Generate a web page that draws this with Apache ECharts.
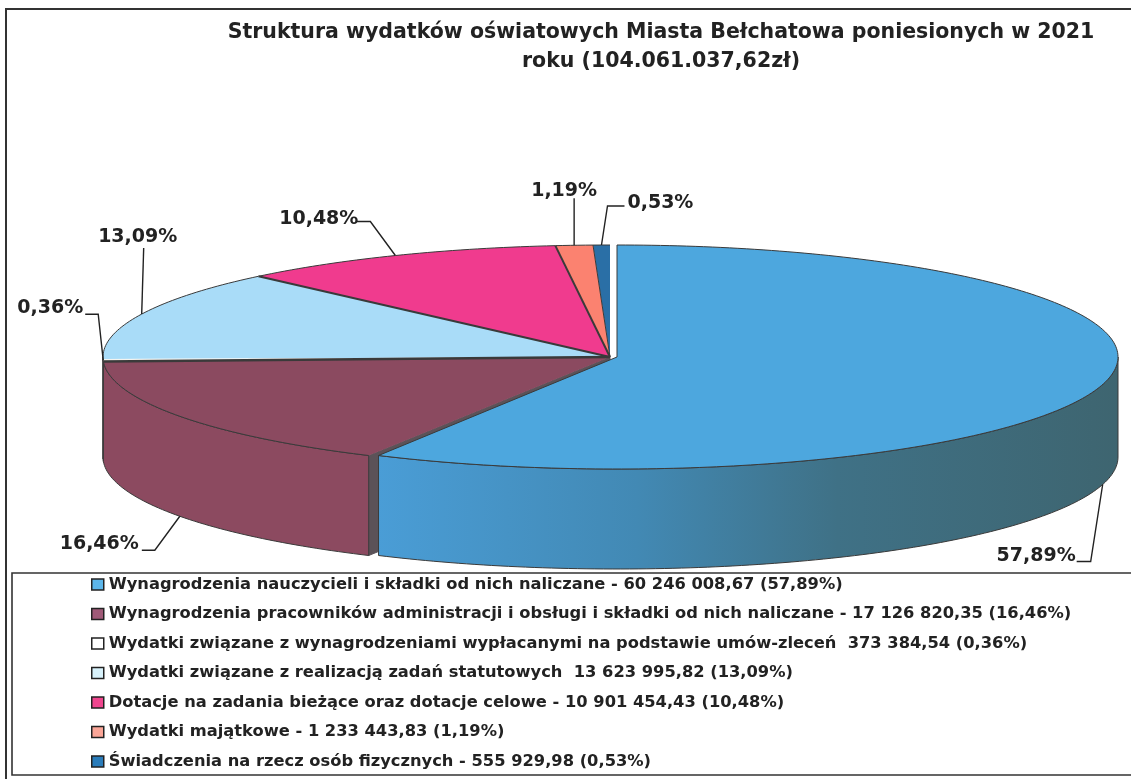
<!DOCTYPE html>
<html>
<head>
<meta charset="utf-8">
<style>html,body{margin:0;padding:0;background:#fff}#c{width:1131px;height:782px}</style>
<script src="https://cdn.jsdelivr.net/npm/echarts@6/dist/echarts.min.js"></script>
</head>
<body>
<div id="c"></div>
<script>
// ---- data ----
const titleText = 'Struktura wydatków oświatowych Miasta Bełchatowa poniesionych w 2021\nroku (104.061.037,62zł)';
const legendNames = [
  'Wynagrodzenia nauczycieli i składki od nich naliczane - 60 246 008,67 (57,89%)',
  'Wynagrodzenia pracowników administracji i obsługi i składki od nich naliczane - 17 126 820,35 (16,46%)',
  'Wydatki związane z wynagrodzeniami wypłacanymi na podstawie umów-zleceń  373 384,54 (0,36%)',
  'Wydatki związane z realizacją zadań statutowych  13 623 995,82 (13,09%)',
  'Dotacje na zadania bieżące oraz dotacje celowe - 10 901 454,43 (10,48%)',
  'Wydatki majątkowe - 1 233 443,83 (1,19%)',
  'Świadczenia na rzecz osób fizycznych - 555 929,98 (0,53%)'
];
const amounts = [60246008.67, 17126820.35, 373384.54, 13623995.82, 10901454.43, 1233443.83, 555929.98];
const percentLabels = ['57,89%', '16,46%', '0,36%', '13,09%', '10,48%', '1,19%', '0,53%'];

// ---- style ----
const topColors = ['#4da7de', '#8b4a60', '#f4f4f0', '#a9dcf8', '#f03b8e', '#fb8270', '#2a6fa6'];
const legendColors = ['#5cb6ea', '#a05a78', '#ffffff', '#d8f2fb', '#f0468f', '#fba698', '#2a7cba'];
const wallColors = [
  {type:'linear',x:0,y:0,x2:1,y2:0,colorStops:[
    {offset:0,color:'#4a9dd6'},{offset:0.35,color:'#4289b4'},{offset:0.62,color:'#3f7186'},{offset:1,color:'#3e6570'}]},
  '#8c4a60','#dddddd','#a9dcf8','#f03b8e','#fb8270','#2a6fa6'];
const cutColor = '#5b5258';
const edge = '#3a3a3a';
const endEdgeWidth = [0, 2.4, 0, 2, 2, 1, 0];

// ---- geometry of the projected disc ----
const cx = 610, cy = 357, rx = 507, ry = 112, depth = 100;
const explodeX = [7, 0, 0, 0, 0, 0, 0];
const radiusCut = [6, 0, 0, 0, 0, 0, 0];
// label layout: leader elbow points relative to rim anchor, text anchor relative to rim anchor
const leaderOffsets = [
  {wall:true, pts:[[-12,77],[-26,77]], text:[-27,72], align:'right'},
  {wall:true, pts:[[-25,34],[-38,34]], text:[-41,28], align:'right'},
  {wall:false, pts:[[-5,-46],[-18,-46]], text:[-20,-52], align:'right'},
  {wall:false, pts:[[2,-66]], text:[-4,-77], align:'center'},
  {wall:false, pts:[[-25,-34],[-39,-34]], text:[-37,-36], align:'right'},
  {wall:false, pts:[[0,-47]], text:[-10,-54], align:'center'},
  {wall:false, pts:[[6,-39],[23,-39]], text:[26,-42], align:'left'}
];

const total = amounts.reduce((a, b) => a + b, 0);
const cumStart = [];
amounts.reduce((acc, v, i) => { cumStart[i] = acc; return acc + v; }, 0);
const labelFont = 'bold 19px "DejaVu Sans"';
const rad = d => d * Math.PI / 180;

function rim(i, deg) {
  const c = cx + explodeX[i], r = rx - radiusCut[i];
  return [c + r * Math.sin(rad(deg)), cy - ry * Math.cos(rad(deg))];
}
function arcPts(i, a, b) {
  const pts = [], n = Math.max(2, Math.ceil(Math.abs(b - a)));
  for (let k = 0; k <= n; k++) pts.push(rim(i, a + (b - a) * k / n));
  return pts;
}
function down(p) { return [p[0], p[1] + depth]; }

function renderSlice(params, api) {
  const i = params.seriesIndex;
  const v = api.value(0);
  const a = cumStart[i] / total * 360, b = a + v / total * 360;
  const center = [cx + explodeX[i], cy];
  const children = [];
  // cut face next to the exploded slice
  if (i > 0 && explodeX[i - 1] > 0) {
    const p = rim(i, a);
    children.push({type:'polygon', shape:{points:[center, p, down(p), down(center)]},
      style:{fill:cutColor, stroke:cutColor, lineWidth:1}});
  }
  // outer wall (only the front half of the rim)
  const wa = Math.max(a, 90), wb = Math.min(b, 270);
  if (wb > wa) {
    const top = arcPts(i, wa, wb);
    const bottom = top.map(down).reverse();
    children.push({type:'polygon', shape:{points:top.concat(bottom)},
      style:{fill:wallColors[i], stroke:edge, lineWidth:1}});
  }
  // top face
  const arc = arcPts(i, a, b);
  children.push({type:'polygon', shape:{points:[center].concat(arc)},
    style:{fill:topColors[i], stroke:i === 0 ? edge : 'none', lineWidth:1, lineJoin:'round'}});
  if (i > 0) {
    children.push({type:'polyline', shape:{points:arc}, style:{fill:'none', stroke:edge, lineWidth:1}});
  }
  if (endEdgeWidth[i] > 0) {
    children.push({type:'polyline', shape:{points:[center, rim(i, b)]},
      style:{fill:'none', stroke:edge, lineWidth:endEdgeWidth[i]}});
  }
  // leader + label, anchored at the middle of the slice
  const mid = (a + b) / 2;
  const lay = leaderOffsets[i];
  let anchor = rim(i, mid);
  if (lay.wall) anchor = down(anchor);
  children.push({type:'polyline',
    shape:{points:[anchor].concat(lay.pts.map(o => [anchor[0] + o[0], anchor[1] + o[1]]))},
    style:{fill:'none', stroke:'#222', lineWidth:1.4}});
  children.push({type:'text', style:{
    x:anchor[0] + lay.text[0], y:anchor[1] + lay.text[1], text:percentLabels[i],
    font:labelFont, fill:'#222', align:lay.align, verticalAlign:'middle'}});
  return {type:'group', children};
}

const chart = echarts.init(document.getElementById('c'), null, {renderer:'canvas'});
chart.setOption({
  animation:false,
  backgroundColor:'#ffffff',
  title:{
    text:titleText, left:656, top:13, textAlign:'center',
    textStyle:{fontFamily:'DejaVu Sans', fontWeight:'bold', fontSize:20.5, lineHeight:29, color:'#222'}
  },
  legend:{
    orient:'vertical', left:91, top:576, icon:'rect', itemWidth:12, itemHeight:11, itemGap:12.5,
    selectedMode:false, padding:0,
    data:legendNames.map((n, i) => ({name:n, itemStyle:{color:legendColors[i], borderColor:'#222', borderWidth:1.5}})),
    textStyle:{fontFamily:'DejaVu Sans', fontWeight:'bold', fontSize:16.3, lineHeight:17, color:'#222'}
  },
  graphic:[
    {type:'polyline', z:0, shape:{points:[[1131,9],[6,9],[6,779]]}, style:{fill:'none', stroke:'#333', lineWidth:2}},
    {type:'polyline', z:0, shape:{points:[[1131,573],[12,573],[12,775],[1131,775]]}, style:{fill:'none', stroke:'#333', lineWidth:1.6}}
  ],
  series:amounts.map((v, i) => ({
    type:'custom', name:legendNames[i], coordinateSystem:'none', z:2 + (amounts.length - i),
    silent:true, clip:false,
    itemStyle:{color:legendColors[i]},
    data:[[v]], renderItem:renderSlice
  }))
});
</script>
</body>
</html>
